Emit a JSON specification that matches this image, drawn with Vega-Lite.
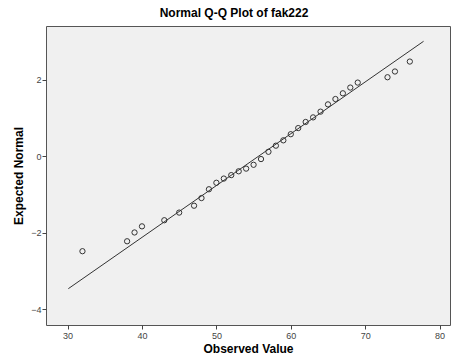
{
  "$schema": "https://vega.github.io/schema/vega-lite/v6.json",
  "width": 404,
  "height": 299,
  "autosize": {"type": "none"},
  "padding": {"left": 46, "top": 26, "right": 1, "bottom": 33},
  "background": "white",
  "title": {"text": "Normal Q-Q Plot of fak222", "font": "Liberation Sans", "fontSize": 12, "fontWeight": "bold", "color": "#000", "offset": 6, "dx": -14},
  "config": {
    "view": {"fill": "#f0f0f0", "stroke": "#555", "strokeWidth": 1},
    "axis": {"grid": false, "domain": false, "labelFont": "Liberation Sans", "labelFontSize": 9, "labelColor": "#444", "tickColor": "#444", "tickSize": 4, "titleFont": "Liberation Sans", "titleFontSize": 12, "titleFontWeight": "bold", "titleColor": "#000"}
  },
  "datasets": {
    "pts": [
      {"obs": 32, "exp": -2.48}, {"obs": 38, "exp": -2.22}, {"obs": 39, "exp": -1.99}, {"obs": 40, "exp": -1.83},
      {"obs": 43, "exp": -1.67}, {"obs": 45, "exp": -1.47}, {"obs": 47, "exp": -1.29}, {"obs": 48, "exp": -1.09},
      {"obs": 49, "exp": -0.86}, {"obs": 50, "exp": -0.69}, {"obs": 51, "exp": -0.58}, {"obs": 52, "exp": -0.49},
      {"obs": 53, "exp": -0.39}, {"obs": 54, "exp": -0.32}, {"obs": 55, "exp": -0.22}, {"obs": 56, "exp": -0.07},
      {"obs": 57, "exp": 0.12}, {"obs": 58, "exp": 0.28}, {"obs": 59, "exp": 0.42}, {"obs": 60, "exp": 0.58},
      {"obs": 61, "exp": 0.74}, {"obs": 62, "exp": 0.9}, {"obs": 63, "exp": 1.02}, {"obs": 64, "exp": 1.17},
      {"obs": 65, "exp": 1.36}, {"obs": 66, "exp": 1.5}, {"obs": 67, "exp": 1.65}, {"obs": 68, "exp": 1.8},
      {"obs": 69, "exp": 1.93}, {"obs": 73, "exp": 2.07}, {"obs": 74, "exp": 2.22}, {"obs": 76, "exp": 2.48}
    ],
    "line": [{"obs": 30.1, "exp": -3.46}, {"obs": 77.85, "exp": 3.01}]
  },
  "layer": [
    {
      "data": {"name": "line"},
      "mark": {"type": "line", "color": "#333", "strokeWidth": 1},
      "encoding": {
        "x": {"field": "obs", "type": "quantitative", "scale": {"domain": [27.1, 81.4], "nice": false, "zero": false},
              "axis": {"values": [30, 40, 50, 60, 70, 80], "title": "Observed Value", "titlePadding": 3, "labelPadding": 2}},
        "y": {"field": "exp", "type": "quantitative", "scale": {"domain": [-4.41, 3.41], "nice": false, "zero": false},
              "axis": {"values": [-4, -2, 0, 2], "title": "Expected Normal", "titlePadding": 5, "labelPadding": 1}}
      }
    },
    {
      "data": {"name": "pts"},
      "mark": {"type": "point", "shape": "circle", "filled": false, "color": "#333", "strokeWidth": 1, "size": 28, "opacity": 1},
      "encoding": {
        "x": {"field": "obs", "type": "quantitative"},
        "y": {"field": "exp", "type": "quantitative"}
      }
    }
  ]
}
